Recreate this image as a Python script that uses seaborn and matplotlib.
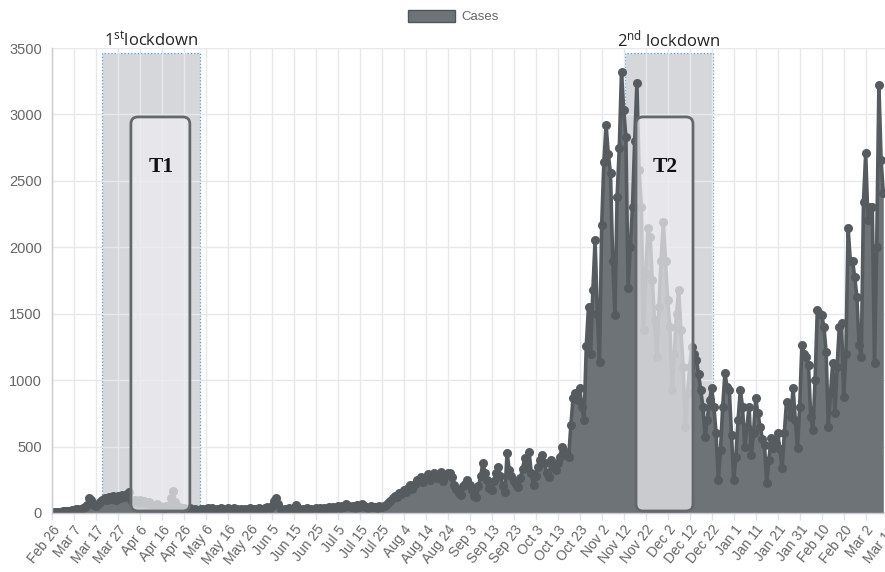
import matplotlib
matplotlib.use("Agg")
import matplotlib.pyplot as plt
import seaborn as sns
import numpy as np
from matplotlib.patches import FancyBboxPatch, Rectangle, Patch

# daily cases, one value per day starting Feb 26
cases = [
    3, 5, 8, 6, 10, 14, 12, 18, 15, 22,
    25, 30, 28, 20, 35, 45, 60, 110, 95, 60,
    50, 70, 85, 100, 110, 95, 120, 105, 125, 100,
    130, 115, 135, 120, 140, 160, 95, 90, 100, 85,
    95, 80, 90, 75, 85, 70, 60, 55, 65, 50,
    45, 40, 50, 45, 110, 168, 80, 50, 45, 35,
    40, 30, 25, 35, 20, 30, 25, 20, 28, 30,
    22, 35, 28, 40, 25, 32, 20, 38, 30, 25,
    35, 22, 30, 40, 28, 24, 33, 20, 30, 26,
    35, 22, 30, 28, 38, 25, 30, 35, 45, 40,
    55, 90, 115, 70, 30, 20, 30, 25, 35, 28,
    40, 60, 35, 25, 30, 22, 35, 28, 30, 25,
    38, 30, 35, 28, 40, 32, 45, 35, 42, 38,
    50, 40, 55, 45, 68, 50, 45, 55, 40, 60,
    48, 65, 50, 45, 40, 50, 42, 48, 40, 55,
    45, 50, 60, 75, 90, 110, 130, 120, 150, 140,
    170, 160, 190, 210, 180, 220, 250, 240, 270, 230,
    260, 290, 250, 280, 300, 260, 290, 310, 240, 280,
    300, 300, 270, 210, 180, 150, 135, 200, 220, 248,
    210, 170, 130, 120, 200, 280, 376, 300, 250, 190,
    173, 240, 300, 346, 280, 200, 158, 452, 320, 280,
    240, 220, 196, 260, 330, 414, 350, 459, 300, 211,
    280, 350, 400, 437, 380, 300, 271, 399, 350, 320,
    380, 420, 497, 470, 440, 421, 662, 866, 900, 850,
    941, 800, 700, 1260, 1553, 1200, 1680, 2055, 1500, 1139,
    2168, 2645, 2920, 2700, 2556, 1900, 1490, 2380, 2750, 3321,
    3031, 2830, 1690, 2000, 2305, 2800, 3234, 2582, 2305, 1377,
    1800, 2142, 2080, 1755, 1450, 1176, 1550, 1900, 2190, 1900,
    1600, 1402, 926, 1200, 1500, 1680, 1377, 1100, 650, 900,
    1100, 1252, 1200, 1151, 1050, 926, 800, 574, 700, 850,
    939, 800, 599, 249, 474, 800, 1051, 950, 926, 587,
    249, 424, 700, 926, 800, 499, 650, 800, 434, 600,
    863, 750, 650, 560, 512, 223, 400, 562, 487, 520,
    599, 480, 336, 600, 838, 800, 725, 939, 700, 487,
    800, 1265, 1200, 1176, 1114, 725, 624, 1000, 1525, 1500,
    1490, 1402, 1214, 650, 900, 1126, 750, 1100, 1402, 1427,
    876, 1200, 2142, 1900, 1900, 1775, 1625, 1265, 1176, 2343,
    2707, 2205, 2300, 2305, 1126, 2000, 3221, 2657, 2405,
]

tick_labels = [
    "Feb 26", "Mar 7", "Mar 17", "Mar 27", "Apr 6", "Apr 16", "Apr 26",
    "May 6", "May 16", "May 26", "Jun 5", "Jun 15", "Jun 25", "Jul 5",
    "Jul 15", "Jul 25", "Aug 4", "Aug 14", "Aug 24", "Sep 3", "Sep 13",
    "Sep 23", "Oct 3", "Oct 13", "Oct 23", "Nov 2", "Nov 12", "Nov 22",
    "Dec 2", "Dec 12", "Dec 22", "Jan 1", "Jan 11", "Jan 21", "Jan 31",
    "Feb 10", "Feb 20", "Mar 2", "Mar 12",
]
y_ticks = [0, 500, 1000, 1500, 2000, 2500, 3000, 3500]

# lockdown periods (day index from Feb 26)
lockdown_start = [22.9, 260.6]
lockdown_end = [67.4, 300.6]
lockdown_names = [r"1$^{st}$lockdown", r"2$^{nd}$ lockdown"]

# T boxes (day range)
box_start = [36.0, 265.6]
box_end = [62.8, 291.5]
box_names = ["T1", "T2"]

LINE = "#555b5e"
FILL = "#6e7377"
GRAY_TXT = "#666666"

sns.set_theme(style="whitegrid")
plt.rcParams["font.family"] = ["Liberation Sans", "DejaVu Sans"]
plt.rcParams["mathtext.default"] = "regular"

fig = plt.figure(figsize=(8.85, 5.72), dpi=100)
ax = fig.add_axes([51.7 / 885, 59 / 572, 380 * 2.2 / 885, 465 / 572])
ax.set_facecolor("white")

days = np.arange(len(cases))

# lockdown shading
for s, e in zip(lockdown_start, lockdown_end):
    ax.add_patch(Rectangle((s, 0), e - s, 3460, facecolor=(0.55, 0.56, 0.60, 0.35),
                           edgecolor="#5b9bd5", linestyle=":", linewidth=0.9, zorder=0.5))

ax.fill_between(days, cases, color=FILL, linewidth=0, zorder=1)
sns.lineplot(x=days, y=cases, ax=ax, color=LINE, linewidth=2.6, marker="o",
             markersize=6.5, markeredgewidth=0, zorder=2)

# rounded T boxes, corrected for axis aspect
aspect = 7.527 * 2.2
for s, e, name in zip(box_start, box_end, box_names):
    ax.add_patch(FancyBboxPatch((s, 15), e - s, 2966,
                                boxstyle="round,pad=0,rounding_size=3.2",
                                mutation_aspect=aspect,
                                facecolor=(0.935, 0.935, 0.95, 0.72),
                                edgecolor="#64686b", linewidth=2, zorder=3))
    ax.text((s + e) / 2 + 0.3, 2604, name, ha="center", va="center",
            fontsize=15.5, fontweight="bold", family=["Liberation Serif"],
            color="#111111", zorder=4)

for s, e, name in zip(lockdown_start, lockdown_end, lockdown_names):
    ax.text((s + e) / 2, 3515, name, ha="center", va="baseline", fontsize=12,
            family=["Open Sans", "DejaVu Sans"], color="#222222", clip_on=False)

ax.set_xlim(0, 380)
ax.set_ylim(0, 3500)
ax.set_xticks(np.arange(0, 381, 10))
ax.set_xticklabels(tick_labels, rotation=52, ha="right", rotation_mode="anchor")
ax.set_yticks(y_ticks)
ax.set_yticklabels([str(v) for v in y_ticks])
ax.grid(True, color="#e6e8ec", linewidth=1)
ax.set_axisbelow(True)
ax.tick_params(axis="x", length=5, width=1, color="#e0e2e6", pad=2,
               labelsize=10, labelcolor=GRAY_TXT, bottom=True)
ax.tick_params(axis="y", length=0, pad=7, labelsize=10.5, labelcolor=GRAY_TXT)
for side in ["top", "right"]:
    ax.spines[side].set_visible(False)
for side in ["left", "bottom"]:
    ax.spines[side].set_color("#c8cbd0")
    ax.spines[side].set_linewidth(1)
ax.set_xlabel("")
ax.set_ylabel("")

handle = Patch(facecolor=FILL, edgecolor="#4f5558", linewidth=1)
fig.legend([handle], ["Cases"], loc="center", bbox_to_anchor=(453.5 / 885, 1 - 16.5 / 572),
           frameon=False, fontsize=9.5, handlelength=3.6, handleheight=1.0,
           handletextpad=0.5, labelcolor=GRAY_TXT)

fig.savefig("out.png", dpi=100)
